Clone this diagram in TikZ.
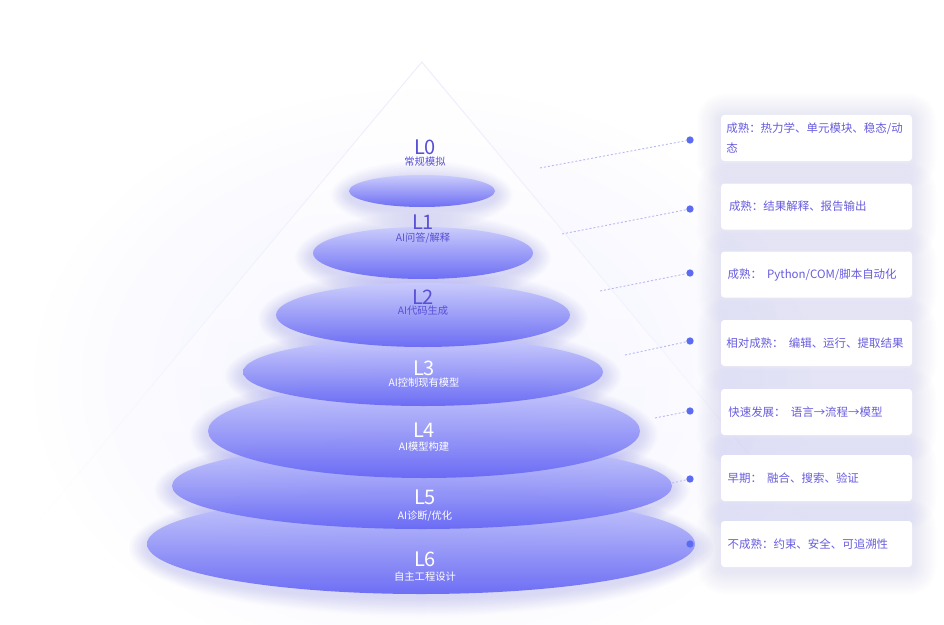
\documentclass[tikz,border=0pt]{standalone}
\usepackage{fontspec}
\setmainfont{Noto Sans CJK SC}
\usetikzlibrary{fadings,shapes.geometric}
\definecolor{lbl}{RGB}{88,80,214}
\definecolor{boxtxt}{RGB}{104,92,222}
\definecolor{disctop}{RGB}{202,204,253}
\definecolor{discbot}{RGB}{102,103,244}
\definecolor{glowc}{RGB}{150,150,245}
\definecolor{hazec}{RGB}{238,238,255}
\definecolor{dotc}{RGB}{92,108,240}
\definecolor{leadc}{RGB}{186,186,246}
\definecolor{triedge}{RGB}{236,236,253}
\tikzset{
  lvl/.style={text=lbl, font=\fontsize{15pt}{15pt}\selectfont, inner sep=0pt},
  sublbl/.style={text=lbl, font=\fontsize{7.7pt}{8pt}\selectfont, inner sep=0pt},
  lvlw/.style={lvl, text=white},
  sublblw/.style={sublbl, text=white},
  infobox/.style={fill=white, rounded corners=2.5pt, minimum width=143.25pt, minimum height=34.5pt, inner sep=0pt},
  infotext/.style={text=boxtxt, font=\fontsize{8.6pt}{15pt}\selectfont, anchor=west, inner sep=0pt, align=left},
  dotnode/.style={circle, fill=dotc, minimum size=5.5pt, inner sep=0pt},
  leader/.style={draw=leadc, line width=0.7pt, dash pattern=on 1.5pt off 1.5pt},
  discfill/.style={top color=disctop, bottom color=discbot, opacity=0.93},
}
\newcommand\discglow[4]{%
  \foreach \k in {1,...,12}{\fill[glowc, opacity=0.028] (#1,#2+4) ellipse [x radius=#3+1.5*\k, y radius=#4+1.5*\k];}}
\newcommand\boxglow[4]{%
  \foreach \k in {1,...,12}{\fill[glowc, opacity=0.016, rounded corners=2pt+\k*1.5pt] (#1-2*\k,#2-2*\k+3) rectangle (#3+2*\k,#4+2*\k+3);}}
\begin{document}
\begin{tikzpicture}[x=0.75pt,y=-0.75pt]
\useasboundingbox (0,0) rectangle (944,624);
\fill[white] (0,0) rectangle (944,624);
% haze and cone
\shade[inner color=hazec, outer color=white] (422,380) ellipse [x radius=400, y radius=300];
\fill[white, opacity=0.85, path fading=south] (422,62) -- (40,520) -- (804,520) -- cycle;
\draw[triedge, line width=0.7pt, path fading=south] (40,520) -- (422,62) -- (804,520);
% glows
\discglow{421}{544}{274}{50}
\discglow{422}{486}{250}{43}
\discglow{424}{431}{216}{47}
\discglow{423}{372}{180}{34}
\discglow{423}{315}{147}{32}
\discglow{423}{253}{110}{26}
\discglow{422}{191}{73}{16}
% discs, bottom first
\shade[discfill] (421,544) ellipse [x radius=274, y radius=50];
\shade[discfill] (422,486) ellipse [x radius=250, y radius=43];
\shade[discfill] (424,431) ellipse [x radius=216, y radius=47];
\shade[discfill] (423,372) ellipse [x radius=180, y radius=34];
\shade[discfill] (423,315) ellipse [x radius=147, y radius=32];
\shade[discfill] (423,253) ellipse [x radius=110, y radius=26];
\shade[discfill] (422,191) ellipse [x radius=73, y radius=16];
% level labels
\node[lvl] (l0) at (425,147) {L0};
\node[sublbl] (s0) at (425,162) {常规模拟};
\node[lvl] (l1) at (423,222) {L1};
\node[sublbl] (s1) at (423,238) {AI问答/解释};
\node[lvl] (l2) at (423,297) {L2};
\node[sublbl] (s2) at (423,311) {AI代码生成};
\node[lvlw] (l3) at (424,368) {L3};
\node[sublblw] (s3) at (424,383) {AI控制现有模型};
\node[lvlw] (l4) at (424,430) {L4};
\node[sublblw] (s4) at (424,447) {AI模型构建};
\node[lvlw] (l5) at (425,497) {L5};
\node[sublblw] (s5) at (425,516) {AI诊断/优化};
\node[lvlw] (l6) at (425,559) {L6};
\node[sublblw] (s6) at (425,577) {自主工程设计};
% boxes
\boxglow{721}{115}{912}{161}
\boxglow{721}{184}{912}{229}
\boxglow{721}{252}{912}{297}
\boxglow{721}{320}{912}{366}
\boxglow{721}{389}{912}{435}
\boxglow{721}{455}{912}{501}
\boxglow{721}{521}{912}{567}
\node[infobox] (b1) at (816.5,138) {};
\node[infobox] (b2) at (816.5,206.5) {};
\node[infobox] (b3) at (816.5,274.5) {};
\node[infobox] (b4) at (816.5,343) {};
\node[infobox] (b5) at (816.5,412) {};
\node[infobox] (b6) at (816.5,478) {};
\node[infobox] (b7) at (816.5,544) {};
\node[infotext] (t1) at ([xshift=4pt]b1.west) {成熟：热力学、单元模块、稳态/动\\态};
\node[infotext] (t2) at ([xshift=6pt]b2.west) {成熟：结果解释、报告输出};
\node[infotext] (t3) at ([xshift=5pt]b3.west) {成熟：\ \ Python/COM/脚本自动化};
\node[infotext] (t4) at ([xshift=4pt]b4.west) {相对成熟：\ \ 编辑、运行、提取结果};
\node[infotext] (t5) at ([xshift=5.5pt]b5.west) {快速发展：\ \ 语言→流程→模型};
\node[infotext] (t6) at ([xshift=5pt]b6.west) {早期：\ \ 融合、搜索、验证};
\node[infotext] (t7) at ([xshift=5pt]b7.west) {不成熟：约束、安全、可追溯性};
% dots and leaders
\node[dotnode] (p1) at (690,140) {};
\node[dotnode] (p2) at (690,209) {};
\node[dotnode] (p3) at (690,273) {};
\node[dotnode] (p4) at (690,341) {};
\node[dotnode] (p5) at (690,411) {};
\node[dotnode] (p6) at (690,479) {};
\node[dotnode] (p7) at (690,544) {};
\coordinate (c1) at (540,168);
\coordinate (c2) at (562,234);
\coordinate (c3) at (600,291);
\coordinate (c4) at (625,355);
\coordinate (c5) at (655,418);
\coordinate (c6) at (672,483);
\draw[leader] (c1) -- (p1);
\draw[leader] (c2) -- (p2);
\draw[leader] (c3) -- (p3);
\draw[leader] (c4) -- (p4);
\draw[leader] (c5) -- (p5);
\draw[leader] (c6) -- (p6);
\end{tikzpicture}
\end{document}
